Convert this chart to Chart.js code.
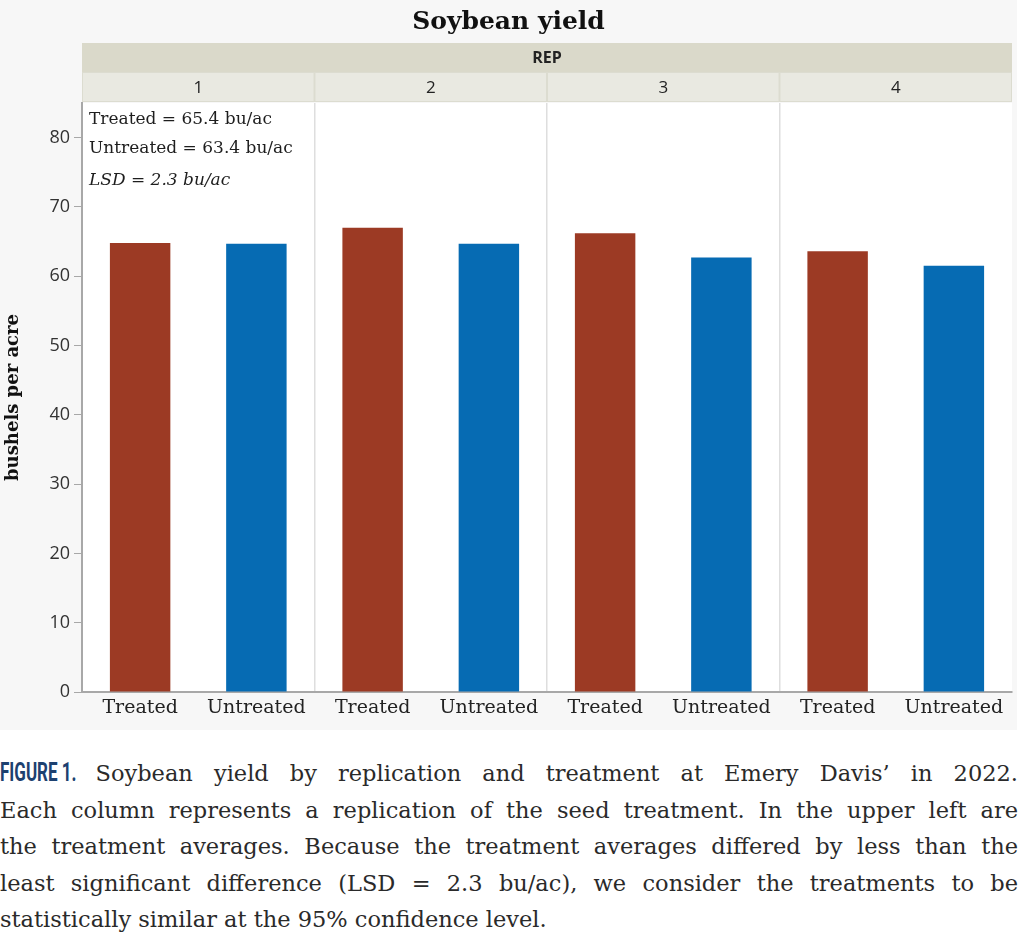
<!DOCTYPE html>
<html>
<head>
<meta charset="utf-8">
<script src="https://cdn.jsdelivr.net/npm/chart.js@4.4.1/dist/chart.umd.min.js"></script>
<style>
  body { margin: 0; background: #fff; width: 1024px; height: 939px; overflow: hidden; }
  #wrap { position: absolute; left: 0; top: 0; width: 1017px; height: 730px; }
  #caption {
    position: absolute; left: 0; top: 755px; width: 1018px;
    font-family: "DejaVu Serif", serif;
    font-size: 22.5px; line-height: 36.5px; color: #2a2a2a;
  }
  #caption div { text-align: justify; text-align-last: justify; white-space: nowrap; }
  #caption div.last { text-align-last: left; }
  #caption b {
    display: inline-block; font-family: "Roboto", "Liberation Sans", sans-serif;
    font-size: 25px; color: #1d4170; font-weight: bold;
    transform: scaleX(0.68); transform-origin: left center; margin-right: -38px;
  }
</style>
</head>
<body>
<div id="wrap"><canvas id="myChart" width="1017" height="730"></canvas></div>
<div id="caption">
  <div><b>FIGURE 1.</b> Soybean yield by replication and treatment at Emery Davis’ in 2022.</div>
  <div>Each column represents a replication of the seed treatment. In the upper left are</div>
  <div>the treatment averages. Because the treatment averages differed by less than the</div>
  <div>least significant difference (LSD = 2.3 bu/ac), we consider the treatments to be</div>
  <div class="last">statistically similar at the 95% confidence level.</div>
</div>
<script>
// данные графика
const reps = ['1', '2', '3', '4'];
const treatments = ['Treated', 'Untreated'];
const treatedYield = [64.8, 67.0, 66.2, 63.6];
const untreatedYield = [64.7, 64.7, 62.7, 61.5];
const treatmentColors = ['#9c3a24', '#066bb3'];
const summaryLines = ['Treated = 65.4 bu/ac', 'Untreated = 63.4 bu/ac', 'LSD = 2.3 bu/ac'];

// собираем метки и значения по повторностям
let labels = [];
let values = [];
let colors = [];
reps.forEach(function(rep, i) {
	labels.push(treatments[0], treatments[1]);
	values.push(treatedYield[i], untreatedYield[i]);
	colors.push(treatmentColors[0], treatmentColors[1]);
});

// фон, заголовок, полосы REP и подписи в углу
const panelPlugin = {
	id: 'panels',
	beforeDraw(chart) {
		const c = chart.ctx;
		const a = chart.chartArea;
		c.save();
		c.fillStyle = '#f7f7f7';
		c.fillRect(0, 0, chart.width, chart.height);
		c.fillStyle = '#ffffff';
		c.fillRect(a.left, a.top, a.right - a.left, a.bottom - a.top);

		c.fillStyle = '#111';
		c.font = 'bold 25px "DejaVu Serif", serif';
		c.textAlign = 'center';
		c.textBaseline = 'middle';
		c.fillText('Soybean yield', chart.width / 2, 22);

		// полоса REP
		c.fillStyle = '#dad9ca';
		c.fillRect(a.left, 43, a.right - a.left, 29);
		c.fillStyle = '#222';
		c.font = 'bold 16px "Open Sans", sans-serif';
		c.fillText('REP', (a.left + a.right) / 2, 58);

		// ячейки повторностей
		const w = (a.right - a.left) / reps.length;
		c.fillStyle = '#dcdcd0';
		c.fillRect(a.left, 72, a.right - a.left, 30);
		reps.forEach(function(rep, i) {
			const x0 = a.left + i * w;
			c.fillStyle = '#e9e9e1';
			c.fillRect(x0 + 1, 73, w - 2, 28);
			c.fillStyle = '#222';
			c.font = '17px "Open Sans", sans-serif';
			c.fillText(rep, x0 + w / 2, 88);
		});
		c.restore();
	},
	afterDraw(chart) {
		const c = chart.ctx;
		const a = chart.chartArea;
		c.save();
		c.fillStyle = '#1e1e1e';
		c.textAlign = 'left';
		c.textBaseline = 'middle';
		summaryLines.forEach(function(line, i) {
			c.font = (i == 2 ? 'italic ' : '') + '17px "DejaVu Serif", serif';
			c.fillText(line, a.left + 7, 120 + i * 29 + (i == 2 ? 3 : 0));
		});
		c.restore();
	}
};

var ctx = document.getElementById('myChart').getContext('2d');
var chart = new Chart(ctx, {
	type: 'bar',
	data: {
		labels: labels,
		datasets: [{
			data: values,
			backgroundColor: colors,
			borderWidth: 0,
			barPercentage: 0.52,
			categoryPercentage: 1
		}]
	},
	options: {
		responsive: false,
		animation: false,
		layout: { padding: { top: 103, right: 5, left: 0, bottom: 0 } },
		plugins: {
			legend: { display: false },
			tooltip: { enabled: false }
		},
		scales: {
			x: {
				afterFit: function(scale) { scale.height = 38; },
				border: { color: '#a8a8a8', width: 2 },
				grid: {
					offset: true,
					drawTicks: false,
					lineWidth: function(context) { return context.index == 8 ? 2 : 1.5; },
					color: function(context) {
						if (context.index == 8) return '#a8a8a8';
						if (context.index > 0 && context.index % 2 == 0) return '#dedede';
						return 'rgba(0,0,0,0)';
					}
				},
				ticks: {
					color: '#222',
					padding: 5,
					maxRotation: 0,
					autoSkip: false,
					font: { family: '"DejaVu Serif", serif', size: 19 }
				}
			},
			y: {
				min: 0,
				max: 85,
				afterFit: function(scale) { scale.width = 82; },
				border: { color: '#a8a8a8', width: 2 },
				grid: { drawOnChartArea: false, tickLength: 8, color: '#a8a8a8' },
				ticks: {
					stepSize: 10,
					includeBounds: false,
					padding: 4,
					color: '#333',
					font: { family: '"Open Sans", sans-serif', size: 18 }
				},
				title: {
					display: true,
					text: 'bushels per acre',
					color: '#111',
					padding: { top: 3, bottom: 0 },
					font: { family: '"DejaVu Serif", serif', size: 18, weight: 'bold' }
				}
			}
		}
	},
	plugins: [panelPlugin]
});
</script>
</body>
</html>
